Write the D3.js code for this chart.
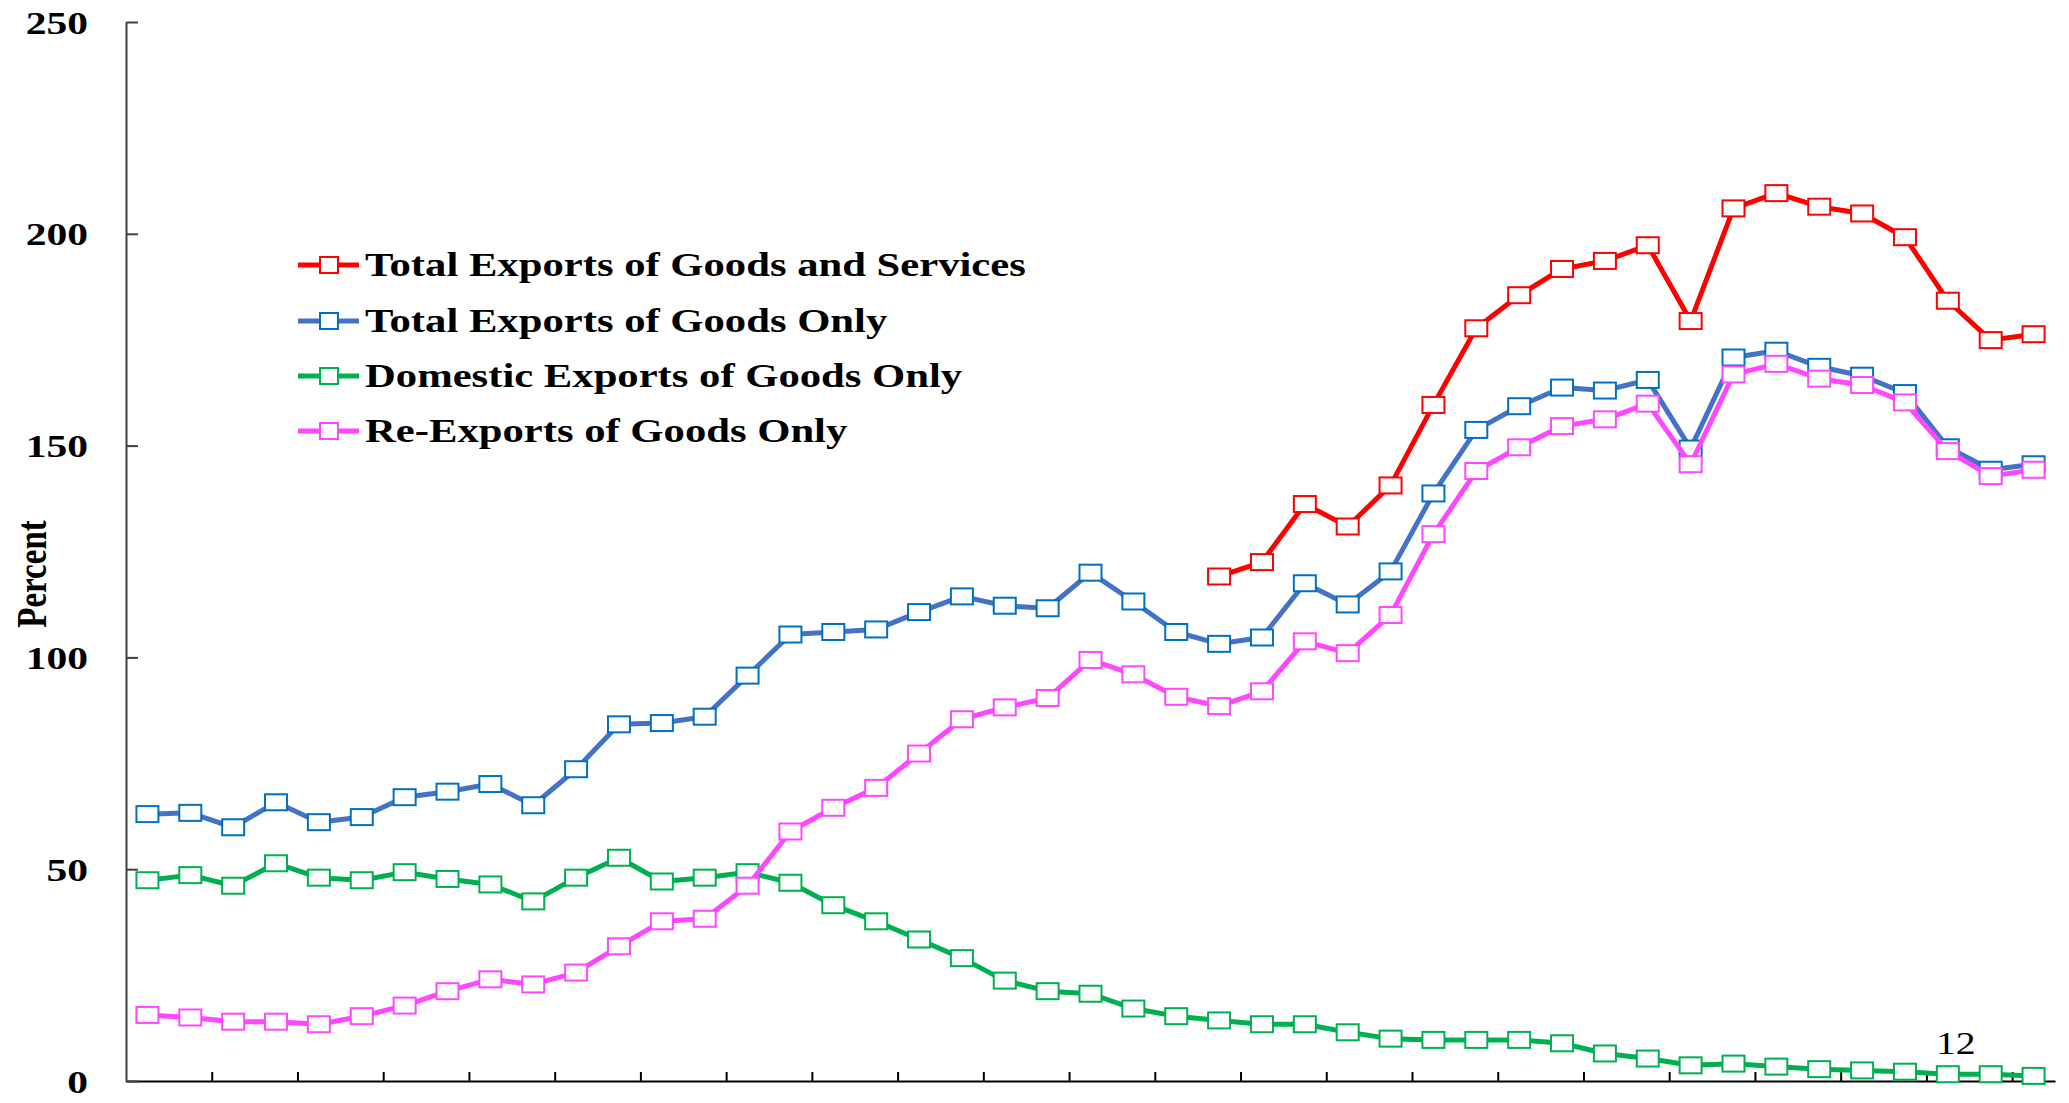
<!DOCTYPE html>
<html>
<head>
<meta charset="utf-8">
<script src="https://cdn.jsdelivr.net/npm/d3@7"></script>
<style>
  body { margin: 0; background: #fff; }
  svg { display: block; }
  text { font-family: "Liberation Serif", "Times New Roman", serif; }
</style>
</head>
<body>
<div id="container"></div>
<script>
// 45 periods along the x axis (labels are not printed on the chart)
const periods = d3.range(1, 46);

const yTicks = [0, 50, 100, 150, 200, 250];

// series values, percent (null = no data)
const totalGoodsServices = [
  null, null, null, null, null, null, null, null, null, null,
  null, null, null, null, null, null, null, null, null, null,
  null, null, null, null, null, 119.1, 122.5, 136.2, 130.9, 140.6,
  159.6, 177.7, 185.5, 191.7, 193.6, 197.3, 179.4, 206.0, 209.6, 206.4,
  204.8, 199.2, 184.2, 174.9, 176.3
];
const totalGoods = [
  63.0, 63.3, 59.9, 65.8, 61.1, 62.3, 67.0, 68.3, 70.1, 65.1,
  73.6, 84.2, 84.5, 86.0, 95.7, 105.4, 106.0, 106.6, 110.7, 114.4,
  112.2, 111.6, 120.0, 113.2, 106.0, 103.2, 104.7, 117.5, 112.5, 120.3,
  138.7, 153.7, 159.3, 163.7, 163.0, 165.5, 149.3, 170.8, 172.4, 168.6,
  166.5, 162.4, 149.6, 144.3, 145.6
];
const domesticGoods = [
  47.4, 48.6, 46.1, 51.4, 48.0, 47.4, 49.3, 47.7, 46.4, 42.4,
  48.0, 52.7, 47.1, 48.0, 49.3, 46.8, 41.5, 37.7, 33.4, 29.0,
  23.7, 21.2, 20.6, 17.1, 15.3, 14.3, 13.4, 13.4, 11.5, 10.0,
  9.7, 9.7, 9.7, 8.9, 6.5, 5.3, 3.7, 4.1, 3.4, 2.8,
  2.5, 2.2, 1.6, 1.6, 1.2
];
const reExportGoods = [
  15.6, 15.0, 14.0, 14.0, 13.4, 15.3, 17.8, 21.2, 24.0, 22.8,
  25.6, 31.8, 37.7, 38.3, 46.1, 58.9, 64.5, 69.2, 77.3, 85.4,
  88.2, 90.4, 99.4, 96.0, 90.7, 88.5, 92.0, 103.8, 101.0, 110.0,
  129.1, 144.0, 149.6, 154.6, 156.2, 159.9, 145.6, 166.8, 169.3, 165.8,
  164.3, 160.2, 148.7, 142.8, 144.3
];

const series = [
  {name: "Total Exports of Goods and Services", values: totalGoodsServices, line: "#ff0000", marker: "#ff0000"},
  {name: "Total Exports of Goods Only", values: totalGoods, line: "#4472c4", marker: "#0070c0"},
  {name: "Domestic Exports of Goods Only", values: domesticGoods, line: "#00b050", marker: "#00b050"},
  {name: "Re-Exports of Goods Only", values: reExportGoods, line: "#ff47ff", marker: "#ff47ff"}
];

// the original picture is stretched sideways, so text is too
const stretch = 1.28;

const width = 2069, height = 1103;
const margin = {top: 22, right: 14, bottom: 22, left: 126};
const plotW = width - margin.left - margin.right;
const plotH = height - margin.top - margin.bottom;

const svg = d3.select("#container")
  .append("svg")
    .attr("width", width)
    .attr("height", height);

const g = svg.append("g")
  .attr("transform", `translate(${margin.left},${margin.top})`);

// scales
const x = d3.scaleBand()
  .domain(periods)
  .range([0, plotW])
  .padding(0);
const xEdge = d3.scaleLinear()
  .domain([0, periods.length])
  .range([0, plotW]);
const y = d3.scaleLinear()
  .domain([0, 250])
  .range([plotH, 0]);

const cx = (d, i) => x(periods[i]) + x.bandwidth() / 2;

// x axis: ticks every two periods, pointing inward
const xAxis = g.append("g")
  .attr("transform", `translate(0,${plotH})`)
  .call(d3.axisBottom(xEdge)
    .tickValues(d3.range(2, periods.length, 2))
    .tickSize(-9)
    .tickSizeOuter(0)
    .tickFormat(""));
xAxis.select(".domain").attr("stroke", "#000").attr("stroke-width", 2);
xAxis.selectAll(".tick line").attr("stroke", "#000").attr("stroke-width", 2);

// y axis
const yAxis = g.append("g")
  .call(d3.axisLeft(y)
    .tickValues(yTicks)
    .tickSize(-12)
    .tickSizeOuter(0)
    .tickFormat(d3.format("d")));
yAxis.select(".domain").attr("stroke", "#404040").attr("stroke-width", 2);
yAxis.selectAll(".tick line").attr("stroke", "#404040").attr("stroke-width", 2);
yAxis.selectAll(".tick text")
  .attr("x", 0)
  .attr("dy", "0.34em")
  .attr("transform", `translate(-38,0) scale(${stretch},1)`)
  .attr("fill", "#000")
  .style("font-family", '"Liberation Serif", serif')
  .style("font-size", "32.5px")
  .style("font-weight", "bold");

// y label
svg.append("text")
  .attr("transform", `translate(32,574) scale(${stretch},1) rotate(-90)`)
  .attr("text-anchor", "middle")
  .attr("dominant-baseline", "central")
  .style("font-size", "33px")
  .style("font-weight", "bold")
  .text("Percent");

// lines and markers
const line = d3.line()
  .defined(d => d != null)
  .x(cx)
  .y(d => y(d));

const mw = 22, mh = 16;

series.forEach(s => {
  g.append("path")
    .datum(s.values)
    .attr("fill", "none")
    .attr("stroke", s.line)
    .attr("stroke-width", 5)
    .attr("stroke-linejoin", "round")
    .attr("d", line);

  g.append("g")
    .selectAll("rect")
    .data(s.values.map((v, i) => ({v, i})).filter(d => d.v != null))
    .join("rect")
      .attr("x", d => cx(d.v, d.i) - mw / 2)
      .attr("y", d => y(d.v) - mh / 2)
      .attr("width", mw)
      .attr("height", mh)
      .attr("fill", "#fff")
      .attr("stroke", s.marker)
      .attr("stroke-width", 2);
});

// stray data label from the original
const labelIdx = 42;
g.append("text")
  .attr("transform", `translate(${cx(null, labelIdx) + 8},${plotH - 27}) scale(${stretch},1)`)
  .attr("text-anchor", "middle")
  .style("font-size", "31px")
  .text("12");

// legend
const legend = svg.append("g");
const legendRows = [265, 321, 376, 431];
series.forEach((s, i) => {
  const row = legend.append("g").attr("transform", `translate(0,${legendRows[i]})`);
  row.append("line")
    .attr("x1", 298).attr("x2", 359)
    .attr("y1", 0).attr("y2", 0)
    .attr("stroke", s.line)
    .attr("stroke-width", 5);
  row.append("rect")
    .attr("x", 329 - 9).attr("y", -8)
    .attr("width", 18).attr("height", 16)
    .attr("fill", "#fff")
    .attr("stroke", s.marker)
    .attr("stroke-width", 2);
  row.append("text")
    .attr("transform", `translate(365,0) scale(1.27,1)`)
    .attr("dominant-baseline", "central")
    .style("font-size", "33.6px")
    .style("font-weight", "bold")
    .text(s.name);
});
</script>
</body>
</html>
